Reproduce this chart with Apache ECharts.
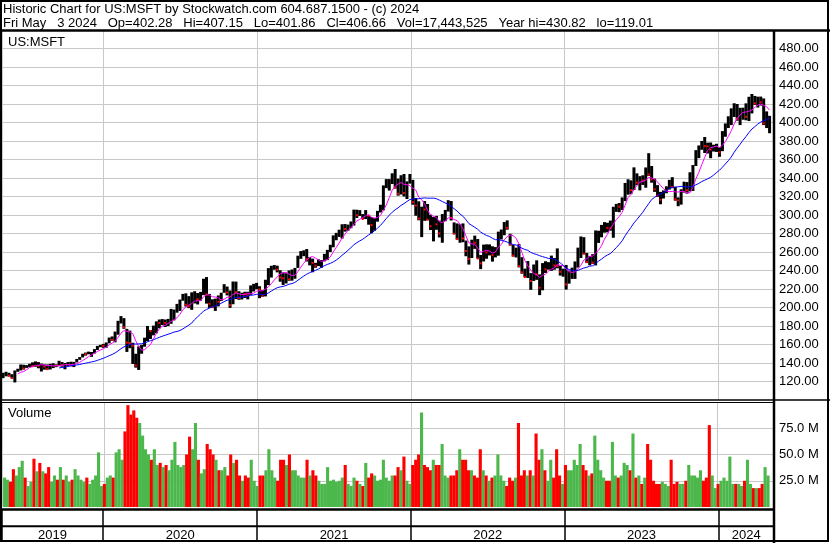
<!DOCTYPE html>
<html><head><meta charset="utf-8">
<script src="https://cdn.jsdelivr.net/npm/echarts@6/dist/echarts.min.js"></script>
<style>html,body{margin:0;padding:0;background:#fff}#c{width:830px;height:543px}</style>
</head><body><div id="c"></div>
<script>
// ---------- texts ----------
const headerLine1 = 'Historic Chart for US:MSFT by Stockwatch.com 604.687.1500 - (c) 2024';
const headerLine2 = 'Fri May   3 2024   Op=402.28   Hi=407.15   Lo=401.86   Cl=406.66   Vol=17,443,525   Year hi=430.82   lo=119.01';
const symbolLabel = 'US:MSFT';
const volumeLabel = 'Volume';
const yearLabels = ['2019', '2020', '2021', '2022', '2023', '2024'];

// ---------- time frame (weekly bars, week of 2019-05-06 .. week of 2024-04-29) ----------
const firstWeekMonday = '2019-05-06';
const axisStartDate = '2019-05-06';
const axisEndDate = '2024-05-12';

// ---------- price axis / volume axis ticks ----------
const priceMin = 100, priceMax = 500, priceStep = 20;
const volMin = 0, volMax = 100, volStep = 25;

// ---------- weekly data ----------
const weekClose = [
127.1,128.9,126.2,123.7,131.4,132.5,137.0,134.0,137.5,138.9,136.6,141.3,136.9,137.7,136.1,133.4,137.9,139.1,137.3,139.4,137.7,138.1,138.2,137.4,140.7,143.7,146.0,150.0,149.6,151.4,151.8,154.5,157.4,159.0,
158.6,161.3,167.1,165.0,170.2,183.9,185.4,178.6,162.0,161.6,158.8,137.4,149.7,153.8,165.1,178.6,174.6,174.6,184.7,183.2,183.5,183.3,187.2,187.7,195.2,196.3,206.3,213.7,202.9,201.3,205.0,212.5,208.9,213.0,228.9,214.3,204.0,200.4,207.8,206.2,215.8,219.7,216.2,202.5,223.7,216.5,210.4,215.2,214.4,213.3,218.6,221.0,
222.4,219.6,212.7,226.0,232.0,242.2,245.0,241.0,232.4,231.6,235.8,230.4,236.5,242.4,255.9,260.7,261.2,252.2,252.5,248.2,245.2,249.7,250.8,257.9,259.4,265.0,277.7,277.9,280.8,289.7,284.9,289.5,292.9,304.4,299.7,301.1,295.7,299.9,299.4,289.1,294.9,304.2,309.2,331.6,336.1,336.7,343.1,329.7,323.0,342.5,323.8,334.7,336.3,
314.0,310.2,296.0,308.3,305.9,295.0,287.9,297.7,289.9,280.1,300.4,303.7,309.4,297.0,279.8,274.0,277.5,274.7,261.1,252.6,273.2,270.0,253.0,247.7,267.7,259.6,267.7,256.7,260.4,280.7,282.9,291.9,286.2,268.1,256.1,264.5,244.7,237.9,232.9,234.2,228.6,242.1,235.9,221.4,247.1,241.2,247.5,255.0,245.4,244.7,238.7,239.8,
224.9,239.2,240.2,248.2,258.4,263.1,258.1,249.2,255.3,248.6,279.4,280.6,288.3,291.6,286.1,285.8,307.3,310.7,309.0,318.3,332.9,335.4,326.8,342.3,335.0,340.5,337.2,345.2,343.8,338.4,327.8,321.0,316.5,323.0,328.7,334.3,330.2,317.0,315.8,327.3,327.7,326.7,329.8,352.8,369.7,369.9,377.4,374.5,374.2,370.7,374.6,376.0,
367.8,388.5,398.7,403.9,411.2,420.6,404.1,410.3,415.5,406.2,416.4,428.7,420.7,425.5,421.9,399.1,406.3,406.7
];
const weekHigh = [
129.4,130.5,129.4,127.9,131.9,133.8,138.4,138.1,137.7,139.2,140.7,141.7,141.0,139.4,138.6,138.4,139.0,139.7,138.5,142.4,141.0,140.0,141.0,141.4,141.2,144.4,146.4,150.0,151.3,152.3,151.9,155.0,158.5,159.6,
160.7,162.2,167.5,168.7,174.0,185.6,190.7,188.5,176.9,175.0,161.9,150.0,158.0,159.6,167.4,180.0,175.7,180.4,185.0,187.0,187.5,187.0,187.7,198.5,197.8,203.9,208.6,214.7,215.3,212.3,216.4,217.6,215.6,216.9,231.1,232.9,214.7,208.9,209.6,213.0,216.0,225.2,222.6,218.3,228.1,228.0,217.6,216.0,217.0,217.0,223.9,225.6,
226.6,223.0,218.9,230.0,242.6,245.1,245.9,245.2,240.3,237.9,237.0,240.1,241.1,242.8,256.0,261.0,261.8,263.2,254.5,252.8,248.3,252.1,251.3,258.0,262.3,267.8,278.0,280.7,284.1,290.0,290.2,289.6,293.0,305.8,305.7,305.3,301.0,305.3,300.0,297.8,296.6,304.5,311.1,332.0,338.8,338.8,345.1,349.7,339.3,343.0,344.3,336.4,344.3,
338.0,318.4,314.8,309.0,315.1,311.9,300.3,297.8,299.0,293.9,301.0,305.5,316.0,315.1,292.0,290.9,290.0,290.9,272.4,266.1,273.3,277.7,274.0,256.8,268.0,268.3,268.2,266.2,265.3,282.0,284.3,292.4,294.2,279.7,267.5,264.7,268.6,254.4,242.0,250.2,237.2,246.5,251.0,235.8,248.0,250.0,249.0,256.1,253.5,263.9,245.2,242.0,
246.0,239.9,243.1,249.8,264.7,276.8,276.0,259.0,255.5,257.7,283.3,283.0,289.3,292.3,291.6,294.0,308.9,312.0,313.0,319.0,334.6,338.6,337.5,351.5,345.0,342.0,342.9,351.4,366.8,353.0,339.3,332.3,325.0,326.6,331.0,338.0,340.9,330.4,319.0,327.8,336.0,335.6,346.2,354.0,370.1,375.2,380.0,384.3,378.2,378.4,376.0,377.0,
373.3,390.7,399.0,406.7,415.3,420.8,420.0,415.9,416.0,420.7,427.8,430.8,428.7,427.9,428.0,426.0,412.0,407.2
];
const weekLow = [
123.6,125.6,125.4,123.3,119.0,130.5,131.9,133.0,134.7,135.4,135.7,136.0,134.3,130.8,132.8,132.8,133.0,134.5,135.5,136.5,136.0,133.2,136.9,137.2,135.6,140.6,143.4,146.0,148.0,149.4,146.7,150.3,154.1,157.0,
156.5,156.5,161.2,164.0,162.4,170.6,182.7,176.9,152.0,156.0,139.0,135.0,132.5,150.0,157.6,163.6,166.0,169.9,172.1,177.5,181.0,178.9,180.0,182.4,186.1,194.4,196.3,207.3,201.0,199.3,197.5,204.4,203.3,207.4,213.3,204.2,199.6,199.7,196.3,201.2,206.9,215.9,213.1,199.6,203.5,209.1,208.3,208.7,210.3,208.8,213.6,217.3,
219.7,210.1,211.7,212.0,224.2,232.4,240.8,238.0,227.9,224.3,226.0,228.9,229.0,231.1,242.8,252.6,255.5,249.7,245.5,238.1,243.0,244.7,243.0,249.8,251.2,260.0,265.1,272.7,276.3,274.5,282.0,283.0,285.7,288.6,296.8,299.0,295.6,295.6,289.5,280.3,283.0,292.8,302.7,305.0,329.0,326.4,333.5,328.6,320.9,322.1,320.0,317.3,333.9,
311.1,299.2,294.3,276.1,293.7,294.3,283.8,271.5,284.0,275.7,270.0,293.3,303.7,294.1,279.3,273.4,270.0,270.6,255.4,246.4,253.5,263.4,252.9,241.5,249.8,252.7,256.3,249.6,254.2,256.0,273.5,278.1,284.1,267.0,255.1,254.1,243.4,236.5,232.7,231.9,219.1,228.7,229.9,213.4,218.6,237.3,240.9,239.6,240.8,242.4,234.5,233.3,
219.4,225.8,230.9,230.9,243.2,253.5,257.6,248.0,245.6,247.2,245.5,269.8,275.9,280.9,281.2,283.0,275.4,303.4,303.0,305.4,315.0,322.0,322.5,327.0,332.3,326.6,332.5,329.5,342.3,334.9,325.0,319.5,311.6,317.8,323.5,327.5,329.0,315.5,309.5,311.2,324.2,323.1,325.5,326.0,353.0,361.5,370.5,367.0,366.5,361.4,368.6,368.2,
362.9,369.0,384.6,394.0,397.2,406.0,401.9,397.2,403.0,402.4,401.6,409.8,419.0,416.2,418.3,397.2,394.0,388.4
];
// weekly volume level, millions of shares
const weekVolume = [
28,26,24,36,30,38,44,28,20,24,46,34,42,34,32,38,24,30,26,38,26,30,24,26,36,30,26,24,28,22,26,30,52,20,
22,28,30,28,52,55,45,72,97,88,92,85,80,68,55,50,45,55,40,42,38,40,35,45,62,40,38,40,50,67,55,80,45,32,36,60,55,50,45,35,35,38,30,50,42,45,30,25,30,28,45,25,
20,30,30,35,55,35,28,25,45,45,40,50,35,35,30,28,28,45,30,35,30,25,22,22,38,25,26,24,25,28,40,22,20,28,25,22,20,42,28,32,30,25,26,45,28,25,30,30,38,35,48,25,22,
40,45,50,90,40,38,35,45,40,40,60,30,28,30,30,35,55,45,45,35,35,30,28,55,35,30,25,28,30,50,30,25,20,28,25,28,80,30,35,30,35,30,70,45,55,35,25,45,28,55,30,22,
40,35,35,45,40,60,40,35,30,32,68,45,35,28,25,25,62,30,28,30,42,40,35,70,28,30,22,28,60,45,25,22,22,24,22,20,45,22,24,22,22,25,40,30,30,28,35,25,28,78,30,18,
22,25,28,25,48,22,22,22,20,25,45,22,18,18,18,22,38,30
];
// moving-average windows (weeks)
const fastWindow = 6;
const slowWindow = 20;

// ---------- build ----------
const DAY = 86400000;
const FONT = '"Liberation Sans", Arial, sans-serif';
const keepSpaces = s => s.replace(/ (?= )/g, '\u00a0');
const toUTC = s => { const p = s.split('-').map(Number); return Date.UTC(p[0], p[1] - 1, p[2]); };
const w0 = toUTC(firstWeekMonday);
const tMin = toUTC(axisStartDate), tMax = toUTC(axisEndDate);
const weekTime = weekClose.map((_, i) => w0 + i * 7 * DAY + 2.5 * DAY);

const priceData = weekClose.map((c, i) => [weekTime[i], weekHigh[i], weekLow[i], c, (i > 0 && c < weekClose[i - 1]) ? 1 : 0]);
function movingAverage(n) {
  return weekClose.map((_, i) => {
    if (i < n - 1) return [weekTime[i], null];
    let s = 0; for (let k = i - n + 1; k <= i; k++) s += weekClose[k];
    return [weekTime[i], +(s / n).toFixed(2)];
  });
}
const volData = weekVolume.map((v, i) => ({
  value: [weekTime[i], v],
  itemStyle: { color: (i > 0 && weekClose[i] < weekClose[i - 1]) ? '#ff0000' : '#4cb84c' }
}));
const yearAreas = yearLabels.map(y => {
  const a = Math.max(tMin, Date.UTC(+y, 0, 1)), b = Math.min(tMax, Date.UTC(+y + 1, 0, 1));
  return [{ name: y, xAxis: a }, { xAxis: b }];
});

function timeAxis(gridIndex, color, width) {
  return {
    type: 'time', gridIndex, min: tMin, max: tMax, splitNumber: 5,
    minInterval: 365 * DAY, maxInterval: 366 * DAY,
    axisLine: { show: false }, axisTick: { show: false }, axisLabel: { show: false },
    splitLine: { show: true, lineStyle: { color, width } }
  };
}
const hiddenY = gi => ({ type: 'value', gridIndex: gi, min: 0, max: 1, show: false });

const L = 2, R = 56;
const option = {
  useUTC: true,
  animation: false,
  backgroundColor: '#fff',
  textStyle: { fontFamily: FONT },
  title: [
    { text: keepSpaces(headerLine1), left: 3, top: 3 },
    { text: keepSpaces(headerLine2), left: 3, top: 16.5 },
    { text: symbolLabel, left: 8, top: 36 },
    { text: volumeLabel, left: 8, top: 407 }
  ].map(t => Object.assign(t, { padding: 0, textStyle: { fontSize: 13, fontWeight: 'normal', color: '#000', fontFamily: FONT } })),
  grid: [
    { left: L, right: R, top: 30, height: 370 },
    { left: L, right: R, top: 402, height: 105 },
    { left: L, right: R, top: 510, height: 16 },
    { left: L, right: R, top: 526, height: 15 }
  ],
  xAxis: [
    timeAxis(0, '#c8c8c8', 1),
    timeAxis(1, '#c8c8c8', 1),
    timeAxis(2, '#000', 1.5),
    timeAxis(3, '#000', 1.5)
  ],
  yAxis: [
    {
      type: 'value', gridIndex: 0, position: 'right', min: priceMin, max: priceMax, interval: priceStep,
      axisLine: { show: false }, axisTick: { show: false },
      axisLabel: { margin: 5, fontSize: 13, color: '#000', fontFamily: FONT,
        formatter: v => (v <= priceMin || v >= priceMax) ? '' : v.toFixed(2) },
      splitLine: { show: true, showMinLine: false, showMaxLine: false, lineStyle: { color: '#c8c8c8', width: 1 } }
    },
    {
      type: 'value', gridIndex: 1, position: 'right', min: volMin, max: volMax, interval: volStep,
      axisLine: { show: false }, axisTick: { show: false },
      axisLabel: { margin: 5, fontSize: 13, color: '#000', fontFamily: FONT,
        formatter: v => (v <= volMin || v >= volMax) ? '' : v.toFixed(1) + ' M' },
      splitLine: { show: true, showMinLine: false, showMaxLine: false, lineStyle: { color: '#c8c8c8', width: 1 } }
    },
    hiddenY(2), hiddenY(3)
  ],
  series: [
    {
      type: 'custom', xAxisIndex: 0, yAxisIndex: 0, data: priceData, silent: true,
      encode: { x: 0, y: [1, 2, 3] },
      renderItem: (params, api) => {
        const x = api.value(0);
        const top = api.coord([x, api.value(1)]);
        const bot = api.coord([x, api.value(2)]);
        const cl = api.coord([x, api.value(3)]);
        const ch = [{ type: 'rect', shape: { x: top[0] - 1.5, y: top[1], width: 3, height: Math.max(1, bot[1] - top[1]) }, style: { fill: '#000' } }];
        if (api.value(4)) ch.push({ type: 'rect', shape: { x: cl[0] - 1, y: cl[1] - 1, width: 2, height: 2 }, style: { fill: '#ff0000' } });
        return { type: 'group', children: ch };
      }
    },
    { type: 'line', xAxisIndex: 0, yAxisIndex: 0, data: movingAverage(fastWindow), showSymbol: false, silent: true,
      lineStyle: { color: '#ff00ff', width: 1 }, z: 5 },
    { type: 'line', xAxisIndex: 0, yAxisIndex: 0, data: movingAverage(slowWindow), showSymbol: false, silent: true,
      lineStyle: { color: '#0000ff', width: 1 }, z: 6 },
    { type: 'bar', xAxisIndex: 1, yAxisIndex: 1, data: volData, barWidth: 3.1, silent: true },
    {
      type: 'line', xAxisIndex: 3, yAxisIndex: 3, data: [], silent: true,
      markArea: {
        silent: true,
        itemStyle: { color: 'rgba(0,0,0,0)' },
        label: { show: true, position: 'inside', offset: [0, 1.5], formatter: '{b}', color: '#000', fontSize: 13, fontFamily: FONT },
        data: yearAreas
      }
    }
  ],
  graphic: [
    { type: 'rect', z: 100, shape: { x: 1, y: 1, width: 827, height: 540 }, style: { fill: 'none', stroke: '#000', lineWidth: 2 } },
    { type: 'line', z: 100, shape: { x1: 0, y1: 30.5, x2: 830, y2: 30.5 }, style: { stroke: '#000', lineWidth: 2.5 } },
    { type: 'line', z: 100, shape: { x1: 774, y1: 30, x2: 774, y2: 543 }, style: { stroke: '#000', lineWidth: 2.5 } },
    { type: 'line', z: 100, shape: { x1: 0, y1: 400, x2: 830, y2: 400 }, style: { stroke: '#000', lineWidth: 1.5 } },
    { type: 'line', z: 100, shape: { x1: 0, y1: 402.5, x2: 774, y2: 402.5 }, style: { stroke: '#000', lineWidth: 1 } },
    { type: 'line', z: 100, shape: { x1: 0, y1: 509.5, x2: 774, y2: 509.5 }, style: { stroke: '#000', lineWidth: 2.5 } },
    { type: 'line', z: 100, shape: { x1: 0, y1: 526.2, x2: 774, y2: 526.2 }, style: { stroke: '#000', lineWidth: 2 } }
  ]
};
const chart = echarts.init(document.getElementById('c'), null, { renderer: 'canvas' });
chart.setOption(option);
</script>
</body></html>
